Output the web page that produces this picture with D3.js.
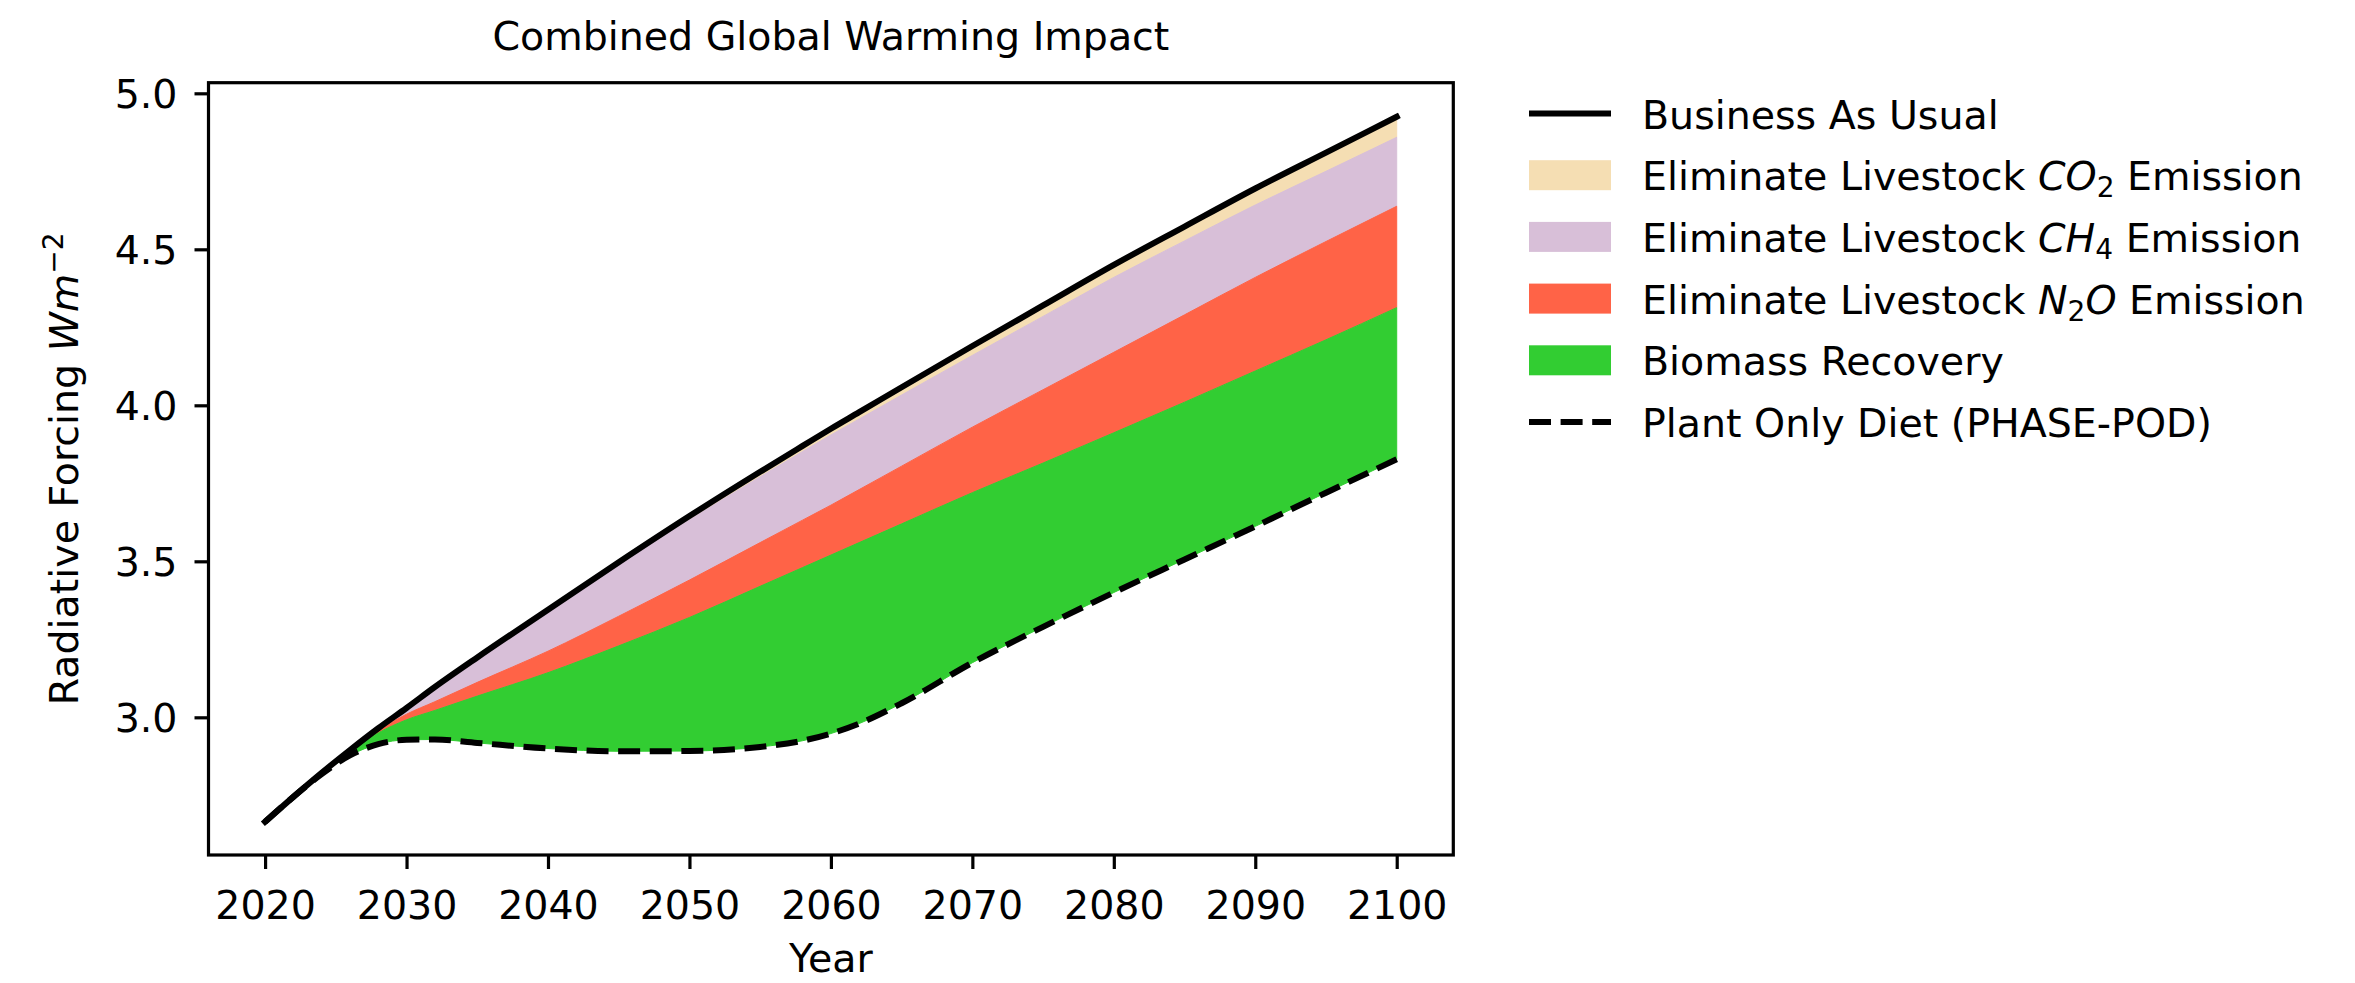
<!DOCTYPE html>
<html>
<head>
<meta charset="utf-8">
<script src="https://cdn.jsdelivr.net/npm/d3@7"></script>
<style>
  html, body { margin: 0; padding: 0; background: #fff; }
  svg { display: block; font-family: "DejaVu Sans", sans-serif; }
</style>
</head>
<body>
<svg id="chart" width="2355" height="983"></svg>
<script>
// ---------------- data ----------------
const years = [2020,2022,2024,2026,2028,2030,2032,2035,2040,2045,2050,2055,2058,2060,2062,2065,2070,2075,2080,2085,2090,2095,2100];
const businessAsUsual = [2.665,2.745,2.822,2.895,2.965,3.030,3.097,3.192,3.345,3.497,3.645,3.787,3.870,3.925,3.978,4.058,4.190,4.320,4.450,4.573,4.695,4.810,4.925];
const withoutCO2 = [2.665,2.745,2.822,2.895,2.965,3.030,3.097,3.190,3.340,3.489,3.633,3.771,3.852,3.905,3.956,4.033,4.160,4.285,4.410,4.527,4.642,4.750,4.859];
const withoutCH4 = [2.665,2.745,2.822,2.893,2.958,3.010,3.050,3.112,3.212,3.324,3.440,3.560,3.632,3.680,3.730,3.805,3.930,4.050,4.170,4.290,4.410,4.525,4.638];
const withoutN2O = [2.665,2.745,2.822,2.892,2.950,2.992,3.022,3.068,3.143,3.229,3.320,3.420,3.480,3.520,3.560,3.620,3.720,3.815,3.912,4.010,4.110,4.210,4.313];
const plantOnlyDiet = [2.665,2.745,2.818,2.878,2.914,2.928,2.929,2.918,2.900,2.891,2.892,2.905,2.925,2.948,2.980,3.045,3.175,3.290,3.400,3.506,3.612,3.720,3.827];

const xTicks = [2020,2030,2040,2050,2060,2070,2080,2090,2100];
const yTicks = [3.0,3.5,4.0,4.5,5.0];

const bandNames = ["Eliminate Livestock $CO_2$ Emission","Eliminate Livestock $CH_4$ Emission","Eliminate Livestock $N_2O$ Emission","Biomass Recovery"];
const bandColors = ["#f5deb3","#d8bfd8","#ff6347","#32cd32"];
const lineNames = ["Business As Usual","Plant Only Diet (PHASE-POD)"];

const titleText = "Combined Global Warming Impact";
const xLabel = "Year";

// ---------------- layout ----------------
const svg = d3.select("#chart");
const L = 208.5, R = 1453.3, T = 82.7, B = 855;
const FS = 39.5;
const LW = 3.2;

const x = d3.scaleLinear().domain([2016, 2104]).range([L, R]);
const y = d3.scaleLinear().domain([2.5587, 5.034]).range([B, T]);

const rows = years.map((yr, i) => ({
  yr, bau: businessAsUsual[i], co2: withoutCO2[i], ch4: withoutCH4[i], n2o: withoutN2O[i], pod: plantOnlyDiet[i]
}));

const bands = [
  {lo: d => d.co2, hi: d => d.bau},
  {lo: d => d.ch4, hi: d => d.co2},
  {lo: d => d.n2o, hi: d => d.ch4},
  {lo: d => d.pod, hi: d => d.n2o}
];

const curve = d3.curveMonotoneX;
const plot = svg.append("g");

bands.forEach((b, i) => {
  const area = d3.area().x(d => x(d.yr)).y0(d => y(b.lo(d))).y1(d => y(b.hi(d))).curve(curve);
  plot.append("path").datum(rows).attr("d", area).attr("fill", bandColors[i])
    .attr("stroke", bandColors[i]).attr("stroke-width", 1);
});

const lineBAU = d3.line().x(d => x(d.yr)).y(d => y(d.bau)).curve(curve);
const linePOD = d3.line().x(d => x(d.yr)).y(d => y(d.pod)).curve(curve);

plot.append("path").datum(rows).attr("d", lineBAU).attr("fill", "none")
  .attr("stroke", "#000").attr("stroke-width", 6).attr("stroke-linecap", "square").attr("stroke-linejoin", "round");
plot.append("path").datum(rows).attr("d", linePOD).attr("fill", "none")
  .attr("stroke", "#000").attr("stroke-width", 6).attr("stroke-dasharray", "22,9.6").attr("stroke-linecap", "butt");

// ---------------- axes ----------------
const xAxis = d3.axisBottom(x).tickValues(xTicks).tickFormat(d3.format("d")).tickSize(14).tickPadding(14);
const yAxis = d3.axisLeft(y).tickValues(yTicks).tickFormat(d3.format(".1f")).tickSize(14).tickPadding(14);

const gx = svg.append("g").attr("transform", `translate(0,${B})`).call(xAxis);
const gy = svg.append("g").attr("transform", `translate(${L},0)`).call(yAxis);
[gx, gy].forEach(g => {
  g.select(".domain").remove();
  g.selectAll(".tick line").attr("stroke", "#000").attr("stroke-width", LW);
  g.selectAll(".tick text").attr("fill", "#000").style("font-family", "DejaVu Sans").style("font-size", FS + "px");
});
gx.selectAll(".tick text").attr("dy", null).attr("y", 64);
gy.selectAll(".tick text").attr("dy", null).attr("x", -31).attr("y", 14);

svg.append("rect").attr("x", L).attr("y", T).attr("width", R - L).attr("height", B - T)
  .attr("fill", "none").attr("stroke", "#000").attr("stroke-width", LW);

// ---------------- titles ----------------
svg.append("text").attr("x", (L + R) / 2).attr("y", 50).attr("text-anchor", "middle")
  .style("font-size", FS + "px").text(titleText);
svg.append("text").attr("x", (L + R) / 2).attr("y", 972).attr("text-anchor", "middle")
  .style("font-size", FS + "px").text(xLabel);

const yl = svg.append("text").attr("transform", `translate(78,${(T + B) / 2}) rotate(-90)`)
  .attr("text-anchor", "middle").style("font-size", FS + "px");
yl.append("tspan").text("Radiative Forcing ");
yl.append("tspan").style("font-style", "italic").text("Wm");
yl.append("tspan").attr("dy", -15).style("font-size", "28px").text("\u22122");

// ---------------- legend ----------------
function addRich(sel, label) {
  const parts = label.split(/(\$[^$]*\$)/).filter(p => p);
  let pendingDy = 0;
  parts.forEach(p => {
    if (p.startsWith("$")) {
      const toks = p.slice(1, -1).split(/(_\w)/).filter(t => t);
      toks.forEach(t => {
        if (t.startsWith("_")) {
          sel.append("tspan").attr("dy", 7 - pendingDy).style("font-size", "28px").text(t.slice(1));
          pendingDy = 7;
        } else {
          sel.append("tspan").attr("dy", pendingDy ? -pendingDy : null).style("font-style", "italic").text(t);
          pendingDy = 0;
        }
      });
    } else {
      sel.append("tspan").attr("dy", pendingDy ? -pendingDy : null).style("white-space", "pre").text(p);
      pendingDy = 0;
    }
  });
}

const legendEntries = [
  {type: "line", label: lineNames[0]},
  {type: "patch", label: bandNames[0], color: bandColors[0]},
  {type: "patch", label: bandNames[1], color: bandColors[1]},
  {type: "patch", label: bandNames[2], color: bandColors[2]},
  {type: "patch", label: bandNames[3], color: bandColors[3]},
  {type: "dash", label: lineNames[1]}
];
const lg = svg.append("g");
const hx0 = 1529, hx1 = 1611, tx = 1642, ly0 = 113.5, lstep = 61.7;
legendEntries.forEach((e, i) => {
  const cy = ly0 + i * lstep;
  if (e.type === "patch") {
    lg.append("rect").attr("x", hx0).attr("y", cy - 15).attr("width", hx1 - hx0).attr("height", 30).attr("fill", e.color);
  } else {
    lg.append("line").attr("x1", hx0).attr("x2", hx1).attr("y1", cy).attr("y2", cy)
      .attr("stroke", "#000").attr("stroke-width", 6)
      .attr("stroke-dasharray", e.type === "dash" ? "22,9.6" : null);
  }
  const t = lg.append("text").attr("x", tx).attr("y", cy + 15).style("font-size", FS + "px").attr("xml:space", "preserve");
  addRich(t, e.label);
});
</script>
</body>
</html>
